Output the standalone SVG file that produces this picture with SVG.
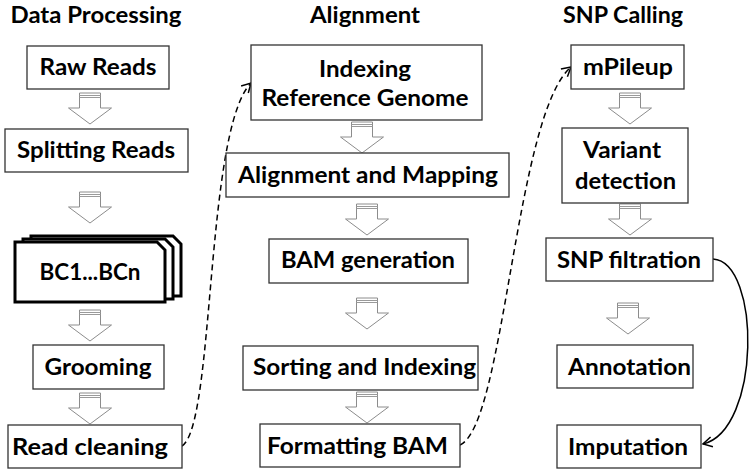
<svg xmlns="http://www.w3.org/2000/svg" xmlns:xlink="http://www.w3.org/1999/xlink" width="750" height="474" viewBox="0 0 750 474">
<style>
.t{font-family:"Lato","Liberation Sans",sans-serif;font-weight:bold;font-size:23px;fill:#000;text-anchor:middle}
.box{fill:#fff;stroke:#333;stroke-width:1.3}
.stk{fill:#fff;stroke:#000;stroke-width:3;stroke-linejoin:miter}
.dash{fill:none;stroke:#000;stroke-width:1.5;stroke-dasharray:6 4}
.solid{fill:none;stroke:#000;stroke-width:1.5}
</style>
<defs>
<g id="blk">
<path d="M-10.5,0 H10.5 V15 H21.5 L0,31 L-21.5,15 H-10.5 Z" fill="#fff" stroke="#8c8c8c" stroke-width="1"/>
<path d="M-10.5,2.5 H10.5 M-10.5,4.5 H10.5" stroke="#9a9a9a" stroke-width="1.2"/>
</g>
<marker id="chev" markerUnits="userSpaceOnUse" markerWidth="12" markerHeight="12" refX="9" refY="5" orient="auto" overflow="visible">
<path d="M0,0 L9,5 L0,10" fill="none" stroke="#000" stroke-width="1.5"/>
</marker>
</defs>
<rect width="750" height="474" fill="#fff"/>

<g id="titles">
<text class="t" x="96" y="23" textLength="171" lengthAdjust="spacingAndGlyphs">Data Processing</text>
<text class="t" x="365" y="23" textLength="110" lengthAdjust="spacingAndGlyphs">Alignment</text>
<text class="t" x="623" y="23" textLength="120" lengthAdjust="spacingAndGlyphs">SNP Calling</text>
</g>

<g id="connectors">
<path class="dash" d="M182,446 C215,425 205,130 251,83" marker-end="url(#chev)"/>
<path class="dash" d="M460,445 C505,425 515,115 571,67" marker-end="url(#chev)"/>
<path class="solid" d="M713,259 C761,262 761,430 703,444" marker-end="url(#chev)"/>
<use xlink:href="#blk" x="90" y="93"/>
<use xlink:href="#blk" x="90" y="192"/>
<use xlink:href="#blk" x="90" y="310"/>
<use xlink:href="#blk" x="90" y="393"/>
<use xlink:href="#blk" x="362" y="122"/>
<use xlink:href="#blk" x="367" y="204"/>
<use xlink:href="#blk" x="367" y="298"/>
<use xlink:href="#blk" x="367" y="392"/>
<use xlink:href="#blk" x="630" y="93"/>
<use xlink:href="#blk" x="630" y="204"/>
<use xlink:href="#blk" x="628" y="303"/>
</g>

<g id="raw-reads"><rect class="box" x="27" y="46" width="142" height="43"/><text class="t" x="98" y="75" textLength="117" lengthAdjust="spacingAndGlyphs">Raw Reads</text></g>
<g id="splitting-reads"><rect class="box" x="5" y="129" width="183" height="43"/><text class="t" x="96" y="158" textLength="158" lengthAdjust="spacingAndGlyphs">Splitting Reads</text></g>
<g id="bc">
<path class="stk" d="M31,236 H173 L181,244 V296 H31 Z"/>
<path class="stk" d="M23,239 H165 L173,247 V299 H23 Z"/>
<path class="stk" d="M15,242 H157 L165,250 V302 H15 Z"/>
<text class="t" x="90" y="280" textLength="101" lengthAdjust="spacingAndGlyphs">BC1...BCn</text>
</g>
<g id="grooming"><rect class="box" x="33" y="345" width="131" height="44"/><text class="t" x="98" y="375" textLength="107" lengthAdjust="spacingAndGlyphs">Grooming</text></g>
<g id="read-cleaning"><rect class="box" x="8" y="425" width="174" height="43"/><text class="t" x="90" y="455" textLength="156" lengthAdjust="spacingAndGlyphs">Read cleaning</text></g>

<g id="indexing-ref"><rect class="box" x="251" y="45" width="231" height="75"/>
<text class="t" x="365" y="77" textLength="92" lengthAdjust="spacingAndGlyphs">Indexing</text>
<text class="t" x="365" y="106" textLength="207" lengthAdjust="spacingAndGlyphs">Reference Genome</text></g>
<g id="alignment-mapping"><rect class="box" x="226" y="153" width="283" height="44"/><text class="t" x="368" y="183" textLength="260" lengthAdjust="spacingAndGlyphs">Alignment and Mapping</text></g>
<g id="bam-generation"><rect class="box" x="269" y="239" width="199" height="44"/><text class="t" x="368" y="268" textLength="174" lengthAdjust="spacingAndGlyphs">BAM generation</text></g>
<g id="sorting-indexing"><rect class="box" x="243" y="346" width="235" height="44"/><text class="t" x="364.5" y="375" textLength="223" lengthAdjust="spacingAndGlyphs">Sorting and Indexing</text></g>
<g id="formatting-bam"><rect class="box" x="260" y="424" width="200" height="43"/><text class="t" x="357.5" y="454" textLength="181" lengthAdjust="spacingAndGlyphs">Formatting BAM</text></g>

<g id="mpileup"><rect class="box" x="571" y="45" width="113" height="44"/><text class="t" x="628" y="75" textLength="90" lengthAdjust="spacingAndGlyphs">mPileup</text></g>
<g id="variant-detection"><rect class="box" x="562" y="128" width="126" height="75"/>
<text class="t" x="622" y="158" textLength="78" lengthAdjust="spacingAndGlyphs">Variant</text>
<text class="t" x="625.5" y="189" textLength="101" lengthAdjust="spacingAndGlyphs">detection</text></g>
<g id="snp-filtration"><rect class="box" x="546" y="238" width="167" height="43"/><text class="t" x="629" y="268" textLength="144" lengthAdjust="spacingAndGlyphs">SNP filtration</text></g>
<g id="annotation"><rect class="box" x="557" y="345" width="136" height="43"/><text class="t" x="629.5" y="375" textLength="123" lengthAdjust="spacingAndGlyphs">Annotation</text></g>
<g id="imputation"><rect class="box" x="557" y="425" width="144" height="43"/><text class="t" x="628" y="455" textLength="120" lengthAdjust="spacingAndGlyphs">Imputation</text></g>
</svg>
